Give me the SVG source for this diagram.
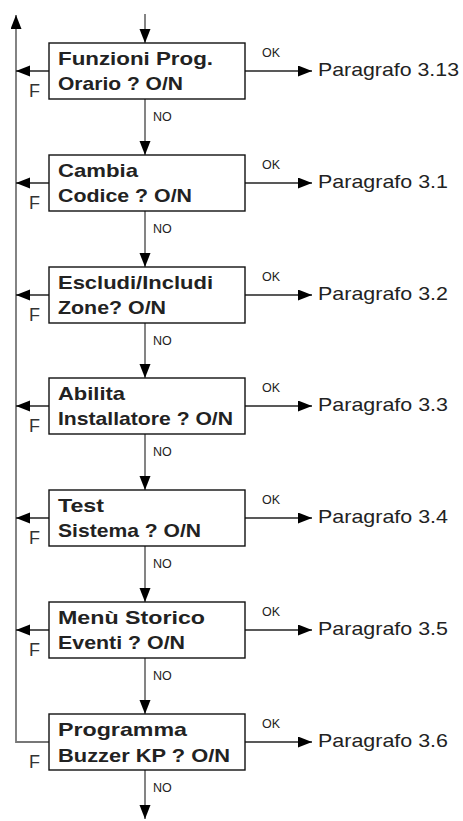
<svg xmlns="http://www.w3.org/2000/svg" width="463" height="821" viewBox="0 0 463 821">
<style>
.box{fill:#fff;stroke:#111;stroke-width:1.4}
.t{font-family:"Liberation Sans",Arial,sans-serif;font-weight:bold;font-size:18.5px;fill:#222}
.p{font-family:"Liberation Sans",Arial,sans-serif;font-size:18.5px;fill:#222}
.s{font-family:"Liberation Sans",Arial,sans-serif;font-size:12.5px;fill:#222}
.f{font-family:"Liberation Sans",Arial,sans-serif;font-size:18px;fill:#333}
.v{stroke:#777;stroke-width:1.8;fill:none}
.h{stroke:#222;stroke-width:1.3;fill:none}
</style>
<defs>
<marker id="ah" markerUnits="userSpaceOnUse" markerWidth="15" markerHeight="12" refX="14" refY="5.5" orient="auto">
<path d="M0,0 L14,5.5 L0,11 Z" fill="#000"/>
</marker>
</defs>
<g id="connectors">
<path class="v" d="M145,14 V43" marker-end="url(#ah)"/>
<path class="v" d="M49,742 H16 V15" marker-end="url(#ah)"/>
<path class="v" d="M145,99 V155" marker-end="url(#ah)"/>
<path class="v" d="M145,211 V267" marker-end="url(#ah)"/>
<path class="v" d="M145,323 V378" marker-end="url(#ah)"/>
<path class="v" d="M145,434 V490" marker-end="url(#ah)"/>
<path class="v" d="M145,546 V602" marker-end="url(#ah)"/>
<path class="v" d="M145,658 V714" marker-end="url(#ah)"/>
<path class="v" d="M145,770 V819" marker-end="url(#ah)"/>
<path class="h" d="M49,71 H16" marker-end="url(#ah)"/>
<path class="h" d="M49,183 H16" marker-end="url(#ah)"/>
<path class="h" d="M49,295 H16" marker-end="url(#ah)"/>
<path class="h" d="M49,406 H16" marker-end="url(#ah)"/>
<path class="h" d="M49,518 H16" marker-end="url(#ah)"/>
<path class="h" d="M49,630 H16" marker-end="url(#ah)"/>
<path class="h" d="M245,71 H312" marker-end="url(#ah)"/>
<path class="h" d="M245,183 H312" marker-end="url(#ah)"/>
<path class="h" d="M245,295 H312" marker-end="url(#ah)"/>
<path class="h" d="M245,406 H312" marker-end="url(#ah)"/>
<path class="h" d="M245,518 H312" marker-end="url(#ah)"/>
<path class="h" d="M245,630 H312" marker-end="url(#ah)"/>
<path class="h" d="M245,742 H312" marker-end="url(#ah)"/>
<text class="s" x="153" y="121">NO</text>
<text class="s" x="153" y="233">NO</text>
<text class="s" x="153" y="345">NO</text>
<text class="s" x="153" y="456">NO</text>
<text class="s" x="153" y="568">NO</text>
<text class="s" x="153" y="680">NO</text>
<text class="s" x="153" y="792">NO</text>
<text class="s" x="262" y="57">OK</text>
<text class="s" x="262" y="169">OK</text>
<text class="s" x="262" y="281">OK</text>
<text class="s" x="262" y="392">OK</text>
<text class="s" x="262" y="504">OK</text>
<text class="s" x="262" y="616">OK</text>
<text class="s" x="262" y="728">OK</text>
<text class="f" x="29" y="97">F</text>
<text class="f" x="29" y="209">F</text>
<text class="f" x="29" y="321">F</text>
<text class="f" x="29" y="432">F</text>
<text class="f" x="29" y="544">F</text>
<text class="f" x="29" y="656">F</text>
<text class="f" x="29" y="768">F</text>
</g>
<g id="n1">
<rect class="box" x="49" y="43" width="196" height="56"/>
<text class="t" x="58" y="65" textLength="155" lengthAdjust="spacingAndGlyphs">Funzioni Prog.</text>
<text class="t" x="58" y="90" textLength="125" lengthAdjust="spacingAndGlyphs">Orario ? O/N</text>
</g>
<g id="n2">
<rect class="box" x="49" y="155" width="196" height="56"/>
<text class="t" x="58" y="177" textLength="80" lengthAdjust="spacingAndGlyphs">Cambia</text>
<text class="t" x="58" y="202" textLength="134" lengthAdjust="spacingAndGlyphs">Codice ? O/N</text>
</g>
<g id="n3">
<rect class="box" x="49" y="267" width="196" height="56"/>
<text class="t" x="58" y="289" textLength="155" lengthAdjust="spacingAndGlyphs">Escludi/Includi</text>
<text class="t" x="58" y="314" textLength="108" lengthAdjust="spacingAndGlyphs">Zone? O/N</text>
</g>
<g id="n4">
<rect class="box" x="49" y="378" width="196" height="56"/>
<text class="t" x="58" y="400" textLength="67" lengthAdjust="spacingAndGlyphs">Abilita</text>
<text class="t" x="58" y="425" textLength="175" lengthAdjust="spacingAndGlyphs">Installatore ? O/N</text>
</g>
<g id="n5">
<rect class="box" x="49" y="490" width="196" height="56"/>
<text class="t" x="58" y="512" textLength="46" lengthAdjust="spacingAndGlyphs">Test</text>
<text class="t" x="58" y="537" textLength="143" lengthAdjust="spacingAndGlyphs">Sistema ? O/N</text>
</g>
<g id="n6">
<rect class="box" x="49" y="602" width="196" height="56"/>
<text class="t" x="58" y="624" textLength="147" lengthAdjust="spacingAndGlyphs">Menù Storico</text>
<text class="t" x="58" y="649" textLength="127" lengthAdjust="spacingAndGlyphs">Eventi ? O/N</text>
</g>
<g id="n7">
<rect class="box" x="49" y="714" width="196" height="56"/>
<text class="t" x="58" y="736" textLength="129" lengthAdjust="spacingAndGlyphs">Programma</text>
<text class="t" x="58" y="762" textLength="172" lengthAdjust="spacingAndGlyphs">Buzzer KP ? O/N</text>
</g>
<g id="p1"><text class="p" x="318" y="76" textLength="141" lengthAdjust="spacingAndGlyphs">Paragrafo 3.13</text></g>
<g id="p2"><text class="p" x="318" y="188" textLength="130" lengthAdjust="spacingAndGlyphs">Paragrafo 3.1</text></g>
<g id="p3"><text class="p" x="318" y="300" textLength="130" lengthAdjust="spacingAndGlyphs">Paragrafo 3.2</text></g>
<g id="p4"><text class="p" x="318" y="411" textLength="130" lengthAdjust="spacingAndGlyphs">Paragrafo 3.3</text></g>
<g id="p5"><text class="p" x="318" y="523" textLength="130" lengthAdjust="spacingAndGlyphs">Paragrafo 3.4</text></g>
<g id="p6"><text class="p" x="318" y="635" textLength="130" lengthAdjust="spacingAndGlyphs">Paragrafo 3.5</text></g>
<g id="p7"><text class="p" x="318" y="747" textLength="130" lengthAdjust="spacingAndGlyphs">Paragrafo 3.6</text></g>
</svg>
